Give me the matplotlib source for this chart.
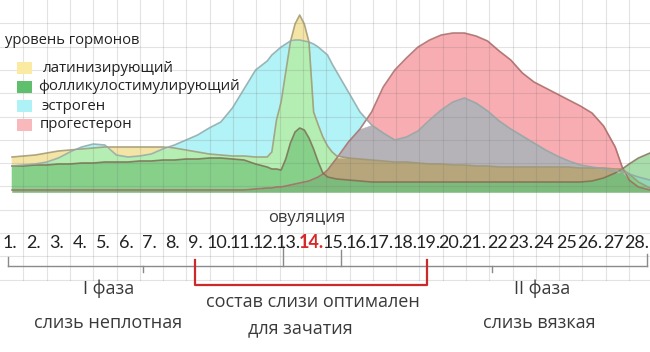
import itertools
import numpy as np
import matplotlib.pyplot as plt
from matplotlib.patches import Rectangle

# cycle day at which each level was read
days = [1, 1.5, 2, 2.5, 3, 3.5, 4, 4.5, 5, 5.5, 6, 6.5, 7, 7.5, 8, 8.5, 9, 9.5,
        10, 10.5, 11, 11.5, 12,
        12.2, 12.4, 12.6, 12.8, 13.0, 13.2, 13.4, 13.6, 13.8, 14.0, 14.2, 14.4, 14.6, 14.8,
        15, 15.5, 16, 16.5, 17, 17.5, 18, 18.5, 19, 19.5, 20, 20.5, 21, 21.5, 22, 22.5,
        23, 23.5, 24, 24.5, 25, 25.5, 26, 26.5, 27,
        27.3, 27.6, 28, 28.5]

# hormone levels (arbitrary units)
lh = [35, 36, 37, 39, 41, 42, 43, 44, 45, 45, 45, 45, 45, 45, 44, 42, 40, 38,
      37, 36, 36, 35, 35,
      40, 72, 90, 120, 150, 168, 177, 168, 150, 80, 67, 55, 46, 40,
      36, 34, 33, 32, 31, 30, 30, 29, 28, 28, 27, 27, 26, 26, 25, 25,
      25, 25, 25, 25, 25, 24, 24, 24, 23,
      23, 18, 10, 4]
fsh = [26, 26, 27, 27, 28, 28, 29, 29, 30, 30, 30, 31, 31, 32, 32, 33, 33, 34,
       34, 33, 32, 28, 25,
       23, 23, 22, 33, 49, 60, 64, 62, 54, 43, 30, 19, 15, 14,
       13, 12, 11, 10, 10, 10, 10, 10, 10, 10, 10, 10, 10, 10, 10, 10,
       10, 10, 10, 10, 10, 10, 11, 14, 19,
       23, 28, 34, 39]
estrogen = [26, 27, 28, 30, 34, 40, 45, 48, 47, 37, 35, 36, 38, 43, 47, 52, 57, 64,
            70, 84, 103, 122, 131,
            137, 141, 145, 148, 151, 152, 152, 151, 150, 148, 145, 141, 137, 128,
            120, 100, 80, 67, 59, 52, 55, 61, 72, 82, 90, 94, 89, 81, 71, 63,
            56, 49, 42, 36, 31, 27, 25, 23, 21,
            20, 18, 15, 12]
progesterone = [2, 2, 2, 2, 2, 2, 2, 2, 2, 2, 2, 2, 2, 2, 2, 2, 2, 2,
                2, 2, 2, 3, 4,
                4, 5, 5, 6, 7, 8, 9, 10, 11, 13, 15, 18, 22, 28,
                34, 50, 63, 80, 105, 122, 134, 145, 152, 157, 159, 159, 156, 151, 141, 132,
                119, 110, 104, 98, 92, 86, 79, 66, 45,
                25, 12, 5, 2]

hormone_names = ["латинизирующий", "фолликулостимулирующий", "эстроген", "прогестерон"]
day_labels = ["1.", "2.", "3.", "4.", "5.", "6.", "7.", "8.", "9.", "10.", "11.", "12.",
              "13.", "14.", "15.", "16.", "17.", "18.", "19.", "20.", "21.", "22", "23.",
              "24", "25", "26.", "27", "28."]
ovulation_day = 14

# colour of every overlap of hormones (L=LH, F=FSH, E=estrogen, P=progesterone)
mix = {
    "L": "#f4e4a6", "F": "#a8dcaa", "E": "#b2f3f7", "P": "#f8adb2",
    "LF": "#9fd79a", "LE": "#b4eeb2", "LP": "#e9b08e", "FE": "#92d8b6",
    "FP": "#b0b894", "EP": "#b5b3b8",
    "LFE": "#86d08a", "LFP": "#9cb884", "LEP": "#b7a67c", "FEP": "#8cbc98",
    "LFEP": "#7dbb7c",
}
line_colors = {"L": "#9c9470", "F": "#7d6a52", "E": "#8fa5a5", "P": "#a36460"}
legend_colors = ["#fbeaa2", "#5fbf6c", "#aef2f8", "#f8b8bc"]
text_color = "#3a3a3a"


def px_x(x):
    return (x - 12) / 23.2 + 1


def px_y(y):
    return 192 - y


fig = plt.figure(figsize=(6.5, 3.52), dpi=100)
ax = fig.add_axes([0, 0, 1, 1])
ax.set_xlim(px_x(0), px_x(650))
ax.set_ylim(px_y(352), px_y(0))
ax.axis("off")

x = np.array(days)
curves = {"L": np.array(lh), "F": np.array(fsh), "E": np.array(estrogen), "P": np.array(progesterone)}
zero = np.zeros(len(x))
for n in range(1, 5):
    for combo in itertools.combinations("LFEP", n):
        key = "".join(combo)
        top = np.min([curves[k] for k in combo], axis=0)
        rest = [curves[k] for k in "LFEP" if k not in combo]
        bottom = np.max(rest, axis=0) if rest else zero
        ax.fill_between(x, bottom, top, where=top > bottom, interpolate=True,
                        facecolor=mix[key], edgecolor=mix[key], lw=0.4, zorder=1)

# background grid, faintly visible through the areas
grid_col = (0.45, 0.45, 0.45, 0.2)
for k in range(1, 28):
    ax.plot([px_x(23.3 * k)] * 2, [px_y(0), px_y(280)], color=grid_col, lw=0.8, zorder=2)
for k in range(1, 13):
    ax.plot([px_x(0), px_x(650)], [px_y(23.3 * k)] * 2, color=grid_col, lw=0.8, zorder=2)

for key in "PFLE":
    ax.plot(x, curves[key], color=line_colors[key], lw=1.2, alpha=0.8, zorder=3)

# legend
ax.text(px_x(5), px_y(40), "уровень гормонов", fontsize=10.6, family="Open Sans",
        color="#222222", va="center", ha="left")
label_x = [43, 38, 42, 40]
for i, name in enumerate(hormone_names):
    yc = 68 + 19 * i
    ax.add_patch(Rectangle((px_x(17), px_y(yc + 6)), px_x(32) - px_x(17), 12,
                           facecolor=legend_colors[i], edgecolor="none", zorder=4))
    ax.text(px_x(label_x[i]), px_y(yc), name, fontsize=10.8, family="Open Sans",
            color="#222222", va="center", ha="left", zorder=4)

# days axis
ax.text(ovulation_day - 0.3, px_y(218), "овуляция", fontsize=12, family="Open Sans",
        color=text_color, ha="center", va="center")
for d, lab in enumerate(day_labels, start=1):
    if d == ovulation_day:
        ax.text(d - 0.08, px_y(243), lab, fontsize=13, family="Lato", fontweight="bold",
                color="#d62828", ha="center", va="center")
    else:
        ax.text(d - 0.08, px_y(243), lab, fontsize=13, family="Lato",
                color="#222222", ha="center", va="center")

axis_col = "#8a8a8a"
ax.plot([px_x(8), px_x(647)], [px_y(266)] * 2, color=axis_col, lw=1)
for xt, y0, y1 in [(8, 257, 266), (143, 266, 272), (283, 246, 266),
                   (341, 250, 266), (492, 266, 272), (647, 254, 266)]:
    ax.plot([px_x(xt)] * 2, [px_y(y0), px_y(y1)], color=axis_col, lw=1)

# red bracket: optimal mucus window
ax.plot([px_x(195), px_x(195), px_x(427), px_x(427)],
        [px_y(260), px_y(285), px_y(285), px_y(260)], color="#cc2a2a", lw=1.6)

ax.text(px_x(109), px_y(289), "I фаза", fontsize=13, family="Open Sans",
        color=text_color, ha="center", va="center")
ax.text(px_x(108), px_y(323), "слизь неплотная", fontsize=13, family="Open Sans",
        color=text_color, ha="center", va="center")
ax.text(px_x(313), px_y(302), "состав слизи оптимален", fontsize=13, family="Open Sans",
        color=text_color, ha="center", va="center")
ax.text(px_x(300), px_y(328), "для зачатия", fontsize=13, family="Open Sans",
        color=text_color, ha="center", va="center")
ax.text(px_x(542), px_y(289), "II фаза", fontsize=13, family="Open Sans",
        color=text_color, ha="center", va="center")
ax.text(px_x(539), px_y(323), "слизь вязкая", fontsize=13, family="Open Sans",
        color=text_color, ha="center", va="center")

fig.savefig("out.png", dpi=100)
